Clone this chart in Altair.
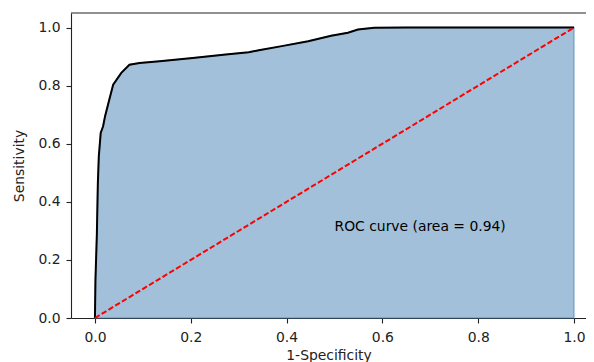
import altair as alt
import pandas as pd

# ROC curve points
fpr = [0.0, 0.001, 0.004, 0.006, 0.008, 0.012, 0.017, 0.021, 0.03, 0.038, 0.055,
       0.072, 0.093, 0.135, 0.204, 0.273, 0.321, 0.342, 0.39, 0.445, 0.493,
       0.528, 0.549, 0.583, 0.652, 1.0]
tpr = [0.0, 0.13, 0.29, 0.46, 0.555, 0.637, 0.66, 0.694, 0.752, 0.803, 0.844,
       0.872, 0.878, 0.884, 0.895, 0.907, 0.915, 0.922, 0.936, 0.953, 0.972,
       0.982, 0.993, 0.999, 1.0, 1.0]
diag_x = [0.0, 1.0]
diag_y = [0.0, 1.0]
x_ticks = [0.0, 0.2, 0.4, 0.6, 0.8, 1.0]
y_ticks = [0.0, 0.2, 0.4, 0.6, 0.8, 1.0]
label_text = ["ROC curve (area = 0.94)"]
label_x = [0.5]
label_y = [0.3]

roc = pd.DataFrame({"fpr": fpr, "tpr": tpr})
diag = pd.DataFrame({"fpr": diag_x, "tpr": diag_y})
lab = pd.DataFrame({"x": label_x, "y": label_y, "t": label_text})

FONT = "DejaVu Sans"
FS = 13.9
W, H = 515, 305

xs = alt.Scale(domain=[-0.05, 1.025], nice=False, zero=False)
ys = alt.Scale(domain=[0, 1.05], nice=False)

xax = alt.Axis(values=x_ticks, format=".1f", title="1-Specificity", grid=False,
               labelPadding=7, titleBaseline="alphabetic", titleY=41)
yax = alt.Axis(values=y_ticks, format=".1f", title="Sensitivity", grid=False,
               labelPadding=6, titlePadding=11)

area = alt.Chart(roc).mark_area(
    color="steelblue", fillOpacity=0.5, stroke="steelblue", strokeOpacity=0.5,
    strokeWidth=1.5, interpolate="linear"
).encode(
    x=alt.X("fpr:Q", scale=xs, axis=xax),
    y=alt.Y("tpr:Q", scale=ys, axis=yax, stack=None),
)

line = alt.Chart(roc).mark_line(color="black", strokeWidth=2).encode(
    x=alt.X("fpr:Q", scale=xs),
    y=alt.Y("tpr:Q", scale=ys),
    order="fpr:Q",
)

dline = alt.Chart(diag).mark_line(color="red", strokeWidth=2, strokeDash=[5.5, 2.4]).encode(
    x=alt.X("fpr:Q", scale=xs),
    y=alt.Y("tpr:Q", scale=ys),
)

text = alt.Chart(lab).mark_text(
    align="left", baseline="alphabetic", font=FONT, fontSize=FS, color="black"
).encode(
    x=alt.X("x:Q", scale=xs),
    y=alt.Y("y:Q", scale=ys),
    text="t:N",
)

top_spine = alt.Chart(lab).mark_rule(color="#222222", strokeWidth=1.1).encode(
    x=alt.value(0), x2=alt.value(W), y=alt.value(0)
)

chart = alt.layer(area, line, dline, text, top_spine).properties(
    width=W, height=H,
    autosize=alt.AutoSizeParams(type="none"),
    padding={"left": 63, "top": 5, "right": 0, "bottom": 44},
).configure_view(stroke=None).configure_axis(
    domainColor="#222222", domainWidth=1.1, tickColor="#222222", tickWidth=1.1,
    tickSize=5, labelFont=FONT, labelFontSize=FS, labelColor="#222222",
    titleFont=FONT, titleFontSize=FS, titleFontWeight="normal", titleColor="#222222",
)

chart.save("out.html", embed_options={"renderer": "svg", "actions": False})
